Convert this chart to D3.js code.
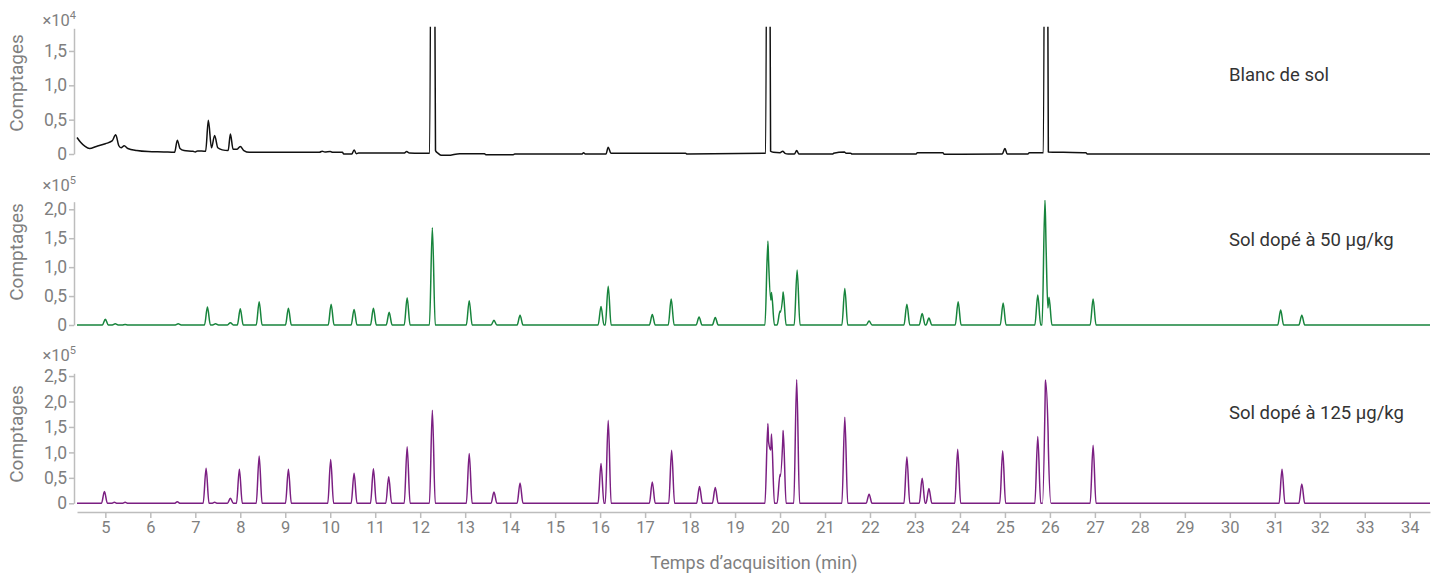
<!DOCTYPE html>
<html>
<head>
<meta charset="utf-8">
<script src="https://cdn.jsdelivr.net/npm/d3@7"></script>
<style>
  body { margin: 0; background: #fff; }
  svg { display: block; font-family: Roboto, "Noto Sans", sans-serif; }
</style>
</head>
<body>
<svg id="chart" width="1440" height="577"></svg>
<script>
// Acquisition time axis (min)
var timeTicks = d3.range(5, 35);
var timeRange = [4.37, 34.45];

// Blank soil trace, counts x10^4 (big peaks run off scale)
var blankTrace = [
  [4.37,0.24],[4.45,0.17],[4.55,0.11],[4.65,0.08],[4.8,0.11],[5.0,0.15],[5.15,0.19],[5.23,0.28],
  [5.3,0.12],[5.35,0.09],[5.42,0.12],[5.5,0.08],[5.7,0.05],[5.95,0.035],[6.3,0.03],[6.54,0.025],
  [6.6,0.2],[6.66,0.08],[6.75,0.05],[6.95,0.04],[7.0,0.03],[7.05,0.045],[7.23,0.04],[7.29,0.49],
  [7.36,0.09],[7.43,0.27],[7.5,0.09],[7.6,0.06],[7.73,0.05],[7.78,0.29],[7.84,0.07],[7.93,0.07],
  [8.0,0.11],[8.08,0.05],[8.2,0.025],[9.76,0.025],[9.82,0.04],[9.88,0.03],[10.0,0.035],[10.06,0.025],
  [10.27,0.025],[10.3,0.0],[10.48,0.0],[10.53,0.06],[10.58,0.005],[10.63,0.015],[11.64,0.015],
  [11.7,0.035],[11.76,0.015],[12.0,0.01],[12.21,0.01],[12.275,10],[12.34,0.05],[12.4,0.01],
  [12.47,-0.02],[12.62,-0.02],[12.88,0.005],[13.43,0.005],[13.46,-0.01],[14.07,-0.01],[14.1,0.0],
  [15.6,0.0],[15.63,0.02],[15.67,0.0],[16.13,0.0],[16.18,0.1],[16.24,0.01],[17.9,0.01],[17.93,0.0],
  [19.68,0.01],[19.735,10],[19.79,0.04],[19.85,0.025],[20.0,0.02],[20.06,0.04],[20.11,0.01],
  [20.18,0.0],[20.32,0.0],[20.37,0.05],[20.42,0.0],[21.17,0.0],[21.19,0.01],[21.43,0.03],[21.47,0.01],
  [21.57,0.01],[21.6,0.0],[23.03,0.0],[23.05,0.02],[23.62,0.02],[23.65,-0.005],[24.94,0.0],[25.0,0.08],
  [25.05,0.0],[25.51,0.0],[25.54,0.02],[25.855,0.02],[25.91,10],[25.965,0.03],[26.3,0.025],[26.8,0.02],
  [26.83,0.0],[34.45,0.0]
];

// Spiked soil 50 ug/kg: [retention time, apex counts x10^5]
var spiked50Peaks = [
  [5.00,0.10],[5.22,0.02],[5.44,0.01],[6.62,0.02],[7.27,0.31],[7.45,0.02],[7.78,0.04],[8.00,0.28],
  [8.42,0.40],[9.07,0.29],[10.02,0.36],[10.53,0.27],[10.96,0.29],[11.31,0.22],[11.71,0.47],[12.27,1.68],
  [13.09,0.42],[13.64,0.08],[14.22,0.17],[16.02,0.32],[16.18,0.67],[17.16,0.18],[17.58,0.45],[18.20,0.14],
  [18.56,0.13],[19.73,1.45],[19.81,0.56],[20.00,0.24],[20.07,0.57],[20.38,0.95],[21.44,0.63],[21.98,0.07],
  [22.82,0.36],[23.16,0.20],[23.31,0.12],[23.96,0.40],[24.96,0.38],[25.73,0.52],[25.89,2.17],[25.98,0.48],
  [26.96,0.45],[31.13,0.26],[31.60,0.17]
];

// Spiked soil 125 ug/kg: [retention time, apex counts x10^5]
var spiked125Peaks = [
  [4.98,0.23],[5.20,0.02],[5.44,0.02],[6.60,0.03],[7.24,0.69],[7.43,0.02],[7.78,0.10],[7.98,0.67],
  [8.42,0.93],[9.07,0.67],[10.01,0.86],[10.53,0.59],[10.96,0.68],[11.30,0.52],[11.71,1.11],[12.27,1.83],
  [13.09,0.98],[13.64,0.22],[14.22,0.40],[16.02,0.78],[16.18,1.63],[17.16,0.42],[17.59,1.04],[18.21,0.33],
  [18.56,0.31],[19.73,1.57],[19.81,1.36],[20.00,0.57],[20.07,1.43],[20.37,2.43],[21.44,1.69],[21.98,0.18],
  [22.82,0.91],[23.16,0.49],[23.31,0.29],[23.95,1.06],[24.95,1.03],[25.73,1.31],[25.90,2.33],[25.96,1.20],
  [26.96,1.14],[31.16,0.67],[31.60,0.38]
];

var blankTicks = [0, 0.5, 1.0, 1.5];
var spiked50Ticks = [0, 0.5, 1.0, 1.5, 2.0];
var spiked125Ticks = [0, 0.5, 1.0, 1.5, 2.0, 2.5];
var panelNames = ["Blanc de sol", "Sol dopé à 50 µg/kg", "Sol dopé à 125 µg/kg"];
var exponents = ["4", "5", "5"];

var peakHalfWidth = 0.065;

// turn a peak table into a drawable trace (triangular peaks, summed)
function peakTrace(peaks) {
  var ts = timeRange.slice();
  peaks.forEach(function(p) { ts.push(p[0] - peakHalfWidth, p[0], p[0] + peakHalfWidth); });
  ts.sort(d3.ascending);
  return ts.map(function(t) {
    var v = d3.sum(peaks, function(p) {
      return Math.max(0, p[1] * (1 - Math.abs(t - p[0]) / peakHalfWidth));
    });
    return [t, v];
  });
}

var panels = [
  { data: blankTrace, ticks: blankTicks, max: 1.83, y0: 154, y1: 28.3, color: "#111111",
    labelY: 81, expY: 25.5, titleY: 83 },
  { data: peakTrace(spiked50Peaks), ticks: spiked50Ticks, max: 2.131, y0: 325, y1: 201.7, color: "#17843c",
    labelY: 246, expY: 190.5, titleY: 252 },
  { data: peakTrace(spiked125Peaks), ticks: spiked125Ticks, max: 2.554, y0: 503.3, y1: 373.3, color: "#7b1f82",
    labelY: 419, expY: 361, titleY: 434 }
];

var svg = d3.select("#chart");
var axisColor = "#bdbdbd";
var textColor = "#7f7f7f";

var x = d3.scaleLinear().domain(timeRange).range([77, 1430]);

function fmt(d) { return d === 0 ? "0" : d.toFixed(1).replace(".", ","); }

panels.forEach(function(p, i) {
  var y = d3.scaleLinear().domain([0, p.max]).range([p.y0, p.y1]);

  svg.append("clipPath").attr("id", "clip" + i)
    .append("rect")
    .attr("x", 70).attr("y", p.y1 - 1.5)
    .attr("width", 1370).attr("height", p.y0 - p.y1 + 6);

  var yAxis = svg.append("g")
    .attr("transform", "translate(74,0)")
    .call(d3.axisLeft(y).tickValues(p.ticks).tickFormat(fmt).tickSize(5).tickSizeOuter(0).tickPadding(2));
  yAxis.select(".domain").attr("stroke", axisColor).attr("stroke-width", 1.5);
  yAxis.selectAll(".tick line").attr("stroke", axisColor).attr("stroke-width", 1.5);
  yAxis.selectAll(".tick text").attr("fill", textColor).style("font-size", "17.5px")
    .style("font-family", "Roboto, sans-serif");

  var line = d3.line()
    .x(function(d) { return x(d[0]); })
    .y(function(d) { return y(d[1]); })
    .curve(d3.curveMonotoneX);

  svg.append("path")
    .datum(p.data)
    .attr("clip-path", "url(#clip" + i + ")")
    .attr("fill", "none")
    .attr("stroke", p.color)
    .attr("stroke-width", 1.5)
    .attr("stroke-linejoin", "round")
    .attr("d", line);

  // scale factor above axis
  var ex = svg.append("text")
    .attr("x", 76).attr("y", p.expY)
    .attr("text-anchor", "end")
    .attr("fill", textColor)
    .style("font-size", "16.5px");
  ex.append("tspan").text("×10");
  ex.append("tspan").attr("dy", -7).style("font-size", "11px").text(exponents[i]);

  svg.append("text")
    .attr("transform", "translate(23," + p.titleY + ") rotate(-90)")
    .attr("text-anchor", "middle")
    .attr("fill", textColor)
    .style("font-size", "19px")
    .text("Comptages");

  svg.append("text")
    .attr("x", 1229).attr("y", p.labelY)
    .attr("fill", "#333333")
    .style("font-size", "18.5px")
    .text(panelNames[i]);
});

var xAxis = svg.append("g")
  .attr("transform", "translate(0,512)")
  .call(d3.axisBottom(x).tickValues(timeTicks).tickFormat(d3.format("d")).tickSize(6).tickSizeOuter(0));
xAxis.select(".domain").attr("stroke", axisColor).attr("stroke-width", 1.5);
xAxis.selectAll(".tick text").attr("fill", textColor).style("font-size", "16.5px")
  .style("font-family", "Roboto, sans-serif");
xAxis.selectAll(".tick line").attr("stroke", axisColor).attr("stroke-width", 1.5);

svg.append("text")
  .attr("x", 754).attr("y", 569)
  .attr("text-anchor", "middle")
  .attr("fill", textColor)
  .style("font-size", "18px")
  .text("Temps d’acquisition (min)");
</script>
</body>
</html>
